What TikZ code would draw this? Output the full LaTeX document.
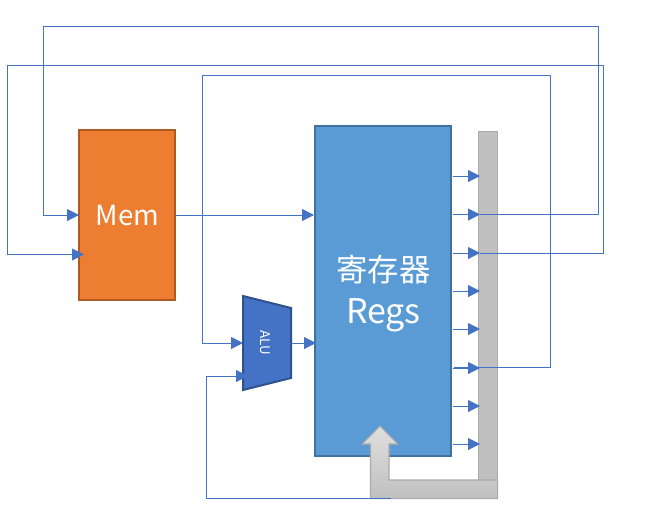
\documentclass[tikz,border=0pt]{standalone}
\usepackage{fontspec}
\newfontfamily\cjk{Noto Sans CJK SC}
\usetikzlibrary{arrows.meta,shapes.geometric}
\definecolor{linkblue}{HTML}{4472C4}
\definecolor{memfill}{HTML}{ED7D31}
\definecolor{memedge}{HTML}{AE5A21}
\definecolor{regfill}{HTML}{5B9BD5}
\definecolor{regedge}{HTML}{41719C}
\definecolor{alufill}{HTML}{4472C4}
\definecolor{aluedge}{HTML}{2F528F}
\definecolor{busfill}{HTML}{C0C0C0}
\definecolor{busedge}{HTML}{AAAAAA}
\tikzset{
  px/.style={x=0.75pt,y=-0.75pt},
  block/.style={draw,line width=1.5pt,outer sep=0pt,text=white,font=\cjk,inner sep=0pt,minimum width=0pt,anchor=north west},
  wire/.style={draw=linkblue,line width=0.75pt,-{Triangle[length=9pt,width=9pt]},line join=miter},
  busshape/.style={fill=busfill,draw=busedge,line width=0.8pt},
}
\begin{document}
\begin{tikzpicture}[px]
\useasboundingbox (0,0) rectangle (655,526);
% bus
\node[busshape,draw,outer sep=0pt,inner sep=0pt,minimum width=14pt,minimum height=275pt,anchor=north west] (bus) at (478.8,131.5) {};
% blocks
\node[block,fill=memfill,draw=memedge,minimum width=72.5pt,minimum height=128pt] (mem) at (78.5,129.5) {};
\node[text=white,font=\cjk\fontsize{20.8pt}{24pt}\selectfont,inner sep=0pt] (memlabel) at (127.5,215.5) {Mem};
\node[block,fill=regfill,draw=regedge,minimum width=102.5pt,minimum height=248pt] (regs) at (314.5,125.5) {};
\node[text=white,align=center,inner sep=0pt,font=\cjk\fontsize{23.5pt}{31pt}\selectfont] (regslabel) at (383.5,293.5) {寄存器\\[1pt]{\fontsize{25.5pt}{31pt}\selectfont Regs}};
\path[busshape,top color=gray!25!white,bottom color=busfill] (497.6,498.5) -- (370.5,498.5) -- (370.5,444) -- (362,444) -- (380,426) -- (398,444) -- (389,444) -- (389,480) -- (497.6,480) -- cycle;
\path[fill=alufill,draw=aluedge,line width=1.5pt] (243,296) coordinate (alunw) -- (291,308) coordinate (alune) -- (291,378) coordinate (alus) -- (243,390) coordinate (alusw) -- cycle;
\node[rotate=-90,text=white,font=\cjk\fontsize{10pt}{11pt}\selectfont,inner sep=0pt] (alu) at (265,343) {ALU};
% register outputs to bus
\foreach \n/\y in {a/176,b/214.5,c/253,d/291,e/329,f/368,g/406,h/444}{
  \coordinate (out\n) at (453,\y);
  \coordinate (bus\n) at (480,\y);
  \draw[wire] (out\n) -- (bus\n);
}
% ports
\coordinate (memin1) at (79,215);
\coordinate (memin2) at (84,254.5);
\coordinate (memout) at (176,215);
\coordinate (regin1) at (314,215);
\coordinate (aluout) at (291,343);
\coordinate (regin2) at (316,343);
\coordinate (aluin1) at (243,343);
\coordinate (aluin2) at (248,376);
\coordinate (busout) at (391,498);
\coordinate (fromb) at (480,214);
\coordinate (fromc) at (480,253);
\coordinate (fromf) at (454,367);
% feedback wires
\draw[wire] (fromb) -- (598,214) -- (598,26) -- (43,26) -- (43,215) -- (memin1);
\draw[wire] (fromc) -- (603,253) -- (603,65) -- (7.6,65) -- (7.6,254.5) -- (memin2);
\draw[wire] (fromf) -- (550,367) -- (550,75) -- (202.6,75) -- (202.6,343) -- (aluin1);
\draw[wire] (busout) -- (206.6,498) -- (206.6,376) -- (aluin2);
\draw[wire] (memout) -- (regin1);
\draw[wire] (aluout) -- (regin2);
\end{tikzpicture}
\end{document}
